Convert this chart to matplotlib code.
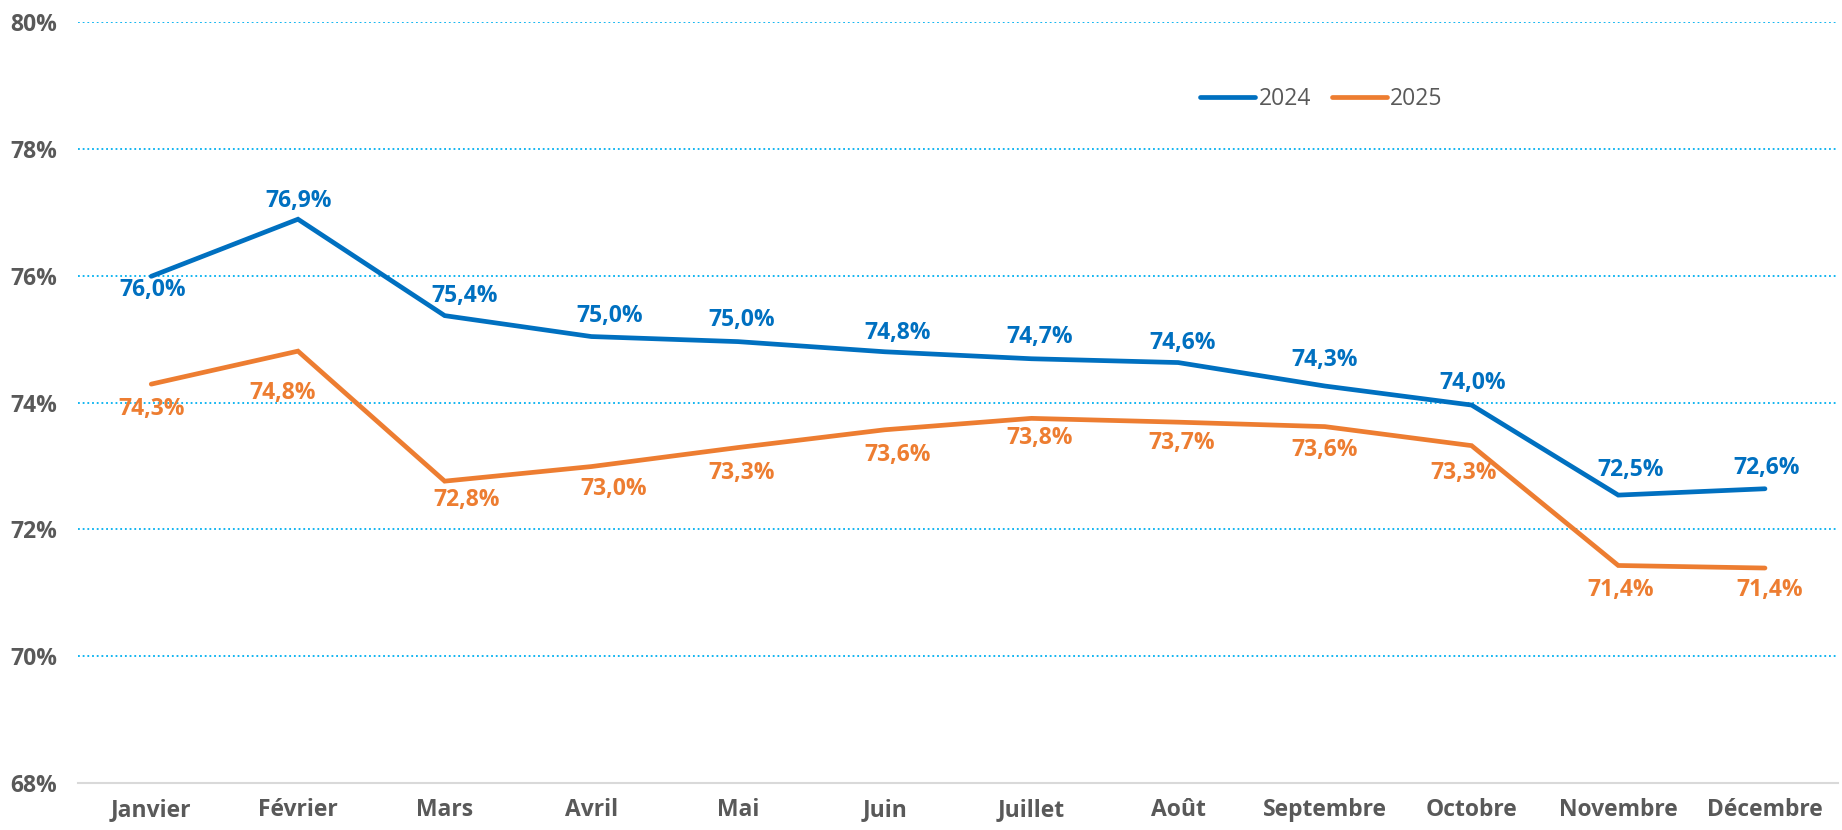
import matplotlib.pyplot as plt
from matplotlib.ticker import FixedLocator

months = ["Janvier", "Février", "Mars", "Avril", "Mai", "Juin", "Juillet",
          "Août", "Septembre", "Octobre", "Novembre", "Décembre"]
rate_2024 = [75.99, 76.89, 75.37, 75.04, 74.96, 74.80, 74.69, 74.63, 74.26, 73.96, 72.54, 72.64]
rate_2025 = [74.29, 74.81, 72.76, 72.99, 73.29, 73.57, 73.75, 73.69, 73.62, 73.32, 71.43, 71.39]
y_ticks = [68, 70, 72, 74, 76, 78, 80]

# label offsets in pixels (dx, dy) relative to each point
offsets_2024 = [(1, -14), (1, 18), (20, 20), (18, 21), (4, 22), (13, 19), (8, 22),
                (4, 20), (0, 26), (1, 22), (12, 25), (2, 21)]
offsets_2025 = [(0, -25), (-15, -42), (22, -19), (22, -22), (4, -25), (13, -25), (8, -20),
                (4, -21), (0, -23), (-8, -27), (2, -25), (5, -22)]

BLUE = "#0070C0"
ORANGE = "#ED7D31"
GRAY = "#595959"
FONT = ["Open Sans", "DejaVu Sans"]
SIZE = 16.5

plt.rcParams["font.family"] = FONT

fig = plt.figure(figsize=(18.42, 8.30), dpi=100)
ax = fig.add_axes([0.0423, 0.0566, 0.9557, 0.9169])

x = list(range(len(months)))
ax.plot(x, rate_2024, color=BLUE, linewidth=3.4, solid_capstyle="round",
        solid_joinstyle="miter", label="2024", zorder=3)
ax.plot(x, rate_2025, color=ORANGE, linewidth=3.4, solid_capstyle="round",
        solid_joinstyle="miter", label="2025", zorder=3)


def fmt(v):
    return f"{v:.1f}".replace(".", ",") + "%"


for series, offs, color in ((rate_2024, offsets_2024, BLUE), (rate_2025, offsets_2025, ORANGE)):
    for xi, v, (dx, dy) in zip(x, series, offs):
        ax.annotate(fmt(v), (xi, v), xytext=(dx, dy), textcoords="offset pixels",
                    ha="center", va="center", color=color, fontsize=SIZE,
                    fontweight="bold", zorder=4)

ax.set_xlim(-0.5, len(months) - 0.5)
ax.set_ylim(68, 80)
ax.yaxis.set_major_locator(FixedLocator(y_ticks))
ax.set_yticklabels([f"{t}%" for t in y_ticks])
ax.set_xticks(x)
ax.set_xticklabels(months)

for t in y_ticks[1:]:
    ax.axhline(t, color="#00B0F0", linewidth=1.3, linestyle=(0, (1, 1.6)), zorder=1)

for side in ("top", "right", "left"):
    ax.spines[side].set_visible(False)
ax.spines["bottom"].set_color("#D9D9D9")
ax.spines["bottom"].set_linewidth(1.5)

ax.tick_params(axis="both", length=0, labelcolor=GRAY, labelsize=SIZE)
ax.tick_params(axis="y", pad=15)
ax.tick_params(axis="x", pad=11)
for lbl in ax.get_xticklabels() + ax.get_yticklabels():
    lbl.set_fontweight("bold")

leg = ax.legend(loc="center left", bbox_to_anchor=(0.6375, 0.899), ncol=2, frameon=False,
                fontsize=SIZE, handlelength=2.4, handletextpad=0.15, columnspacing=0.9,
                borderpad=0, borderaxespad=0)
for text in leg.get_texts():
    text.set_color(GRAY)

fig.savefig("out.png", dpi=100)
